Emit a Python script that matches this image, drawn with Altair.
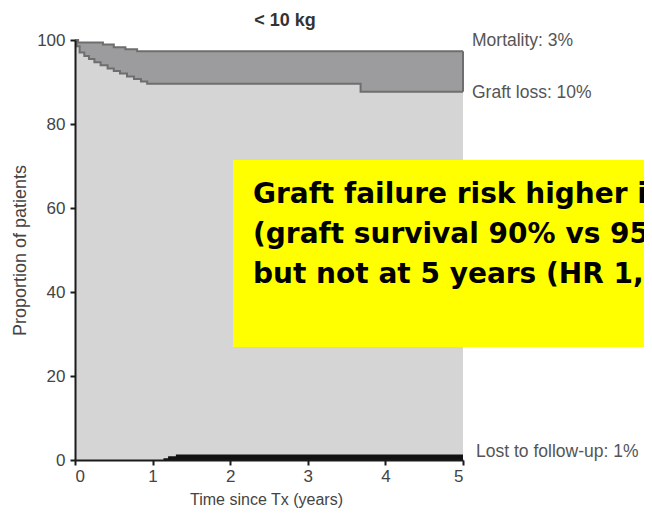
import altair as alt
import pandas as pd

# ---- data (Kaplan-Meier style stacked curves) ----
mort_t = [0, 0.04, 0.36, 0.5, 0.65, 0.8, 5]
mort_v = [100, 99.4, 98.9, 98.3, 97.8, 97.3, 97.3]

graft_t = [0, 0.02, 0.06, 0.12, 0.18, 0.25, 0.33, 0.42, 0.5, 0.58, 0.67, 0.76, 0.85, 0.93, 3.68, 5]
graft_v = [100, 98.5, 97.0, 96.2, 95.5, 94.7, 94.0, 93.2, 92.6, 92.0, 91.3, 90.7, 90.1, 89.6, 87.7, 87.7]

ltfu_t = [0, 1.14, 1.2, 1.3, 5]
ltfu_v = [0, 0.4, 0.9, 1.3, 1.3]

label_texts = ["Mortality: 3%", "Graft loss: 10%", "Lost to follow-up: 1%"]
label_vals = [99.8, 87.4, 1.9]

x_ticks = [0, 1, 2, 3, 4, 5]
y_ticks = [0, 20, 40, 60, 80, 100]

chart_title = "< 10 kg"
box_lines = [
    "Graft failure risk higher i",
    "(graft survival 90% vs 95%",
    "but not at 5 years (HR 1,",
]

FONT = "Liberation Sans"

mort = pd.DataFrame({"t": mort_t, "v": mort_v})
graft = pd.DataFrame({"t": graft_t, "v": graft_v})
ltfu = pd.DataFrame({"t": ltfu_t, "v": ltfu_v})
edge = pd.DataFrame({"t": [mort_t[-1]], "v": [mort_v[-1]], "v2": [graft_v[-1]]})

x_scale = alt.Scale(domain=[0, 5], nice=False, zero=False)
y_scale = alt.Scale(domain=[0, 100], nice=False)

x_axis = alt.Axis(
    values=x_ticks, format="d", title="Time since Tx (years)", grid=False,
    domainColor="#1a1a1a", domainWidth=2, tickColor="#1a1a1a", tickWidth=2, tickSize=5,
    labelFont=FONT, labelFontSize=17, labelColor="#444", labelPadding=3,
    titleFont=FONT, titleFontSize=16, titleFontWeight="normal", titleColor="#444",
    titleX=191, titleY=39, titleAlign="center", titleBaseline="middle", zindex=1,
)
y_axis = alt.Axis(
    values=y_ticks, format="d", title="Proportion of patients", grid=False,
    domainColor="#1a1a1a", domainWidth=2, tickColor="#1a1a1a", tickWidth=2, tickSize=5,
    labelFont=FONT, labelFontSize=17, labelColor="#444", labelPadding=5,
    titleFont=FONT, titleFontSize=18, titleFontWeight="normal", titleColor="#444",
    titleX=-55, titleY=210, titleAngle=270, titleAlign="center", titleBaseline="middle", zindex=1,
)

X = alt.X("t:Q", scale=x_scale, axis=x_axis)
Y = alt.Y("v:Q", scale=y_scale, axis=y_axis)

dark = alt.Chart(mort).mark_area(interpolate="step-after", color="#9c9c9e").encode(x=X, y=Y)
light = alt.Chart(graft).mark_area(interpolate="step-after", color="#d4d5d4").encode(x=X, y=Y)
black = alt.Chart(ltfu).mark_area(interpolate="step-after", color="#111111").encode(x=X, y=Y)
mort_line = alt.Chart(mort).mark_line(interpolate="step-after", color="#6e6e6e", strokeWidth=2).encode(x=X, y=Y)
graft_line = alt.Chart(graft).mark_line(interpolate="step-after", color="#6e6e6e", strokeWidth=2).encode(x=X, y=Y)
edge_rule = alt.Chart(edge).mark_rule(color="#6e6e6e", strokeWidth=2).encode(x=X, y=Y, y2="v2:Q")

label_layers = []
for txt, val, dx in zip(label_texts, label_vals, [9, 9, 13]):
    df = pd.DataFrame({"t": [5], "v": [val], "label": [txt]})
    label_layers.append(
        alt.Chart(df).mark_text(align="left", baseline="middle", dx=dx, font=FONT,
                                fontSize=17.5, color="#555")
        .encode(x=X, y=Y, text="label:N")
    )

anchor = pd.DataFrame({"t": [0]})
title_mark = alt.Chart(anchor).mark_text(
    text=chart_title, font=FONT, fontSize=18, fontWeight="bold", color="#333",
    align="center", baseline="middle",
).encode(x=alt.value(210), y=alt.value(-19))

box = alt.Chart(anchor).mark_rect(color="#ffff00").encode(
    x=alt.value(158), x2=alt.value(620), y=alt.value(120), y2=alt.value(307)
)
box_text = []
for i, line in enumerate(box_lines):
    box_text.append(
        alt.Chart(anchor).mark_text(
            text=line, font="DejaVu Sans", fontSize=28, fontWeight="bold", color="#000",
            align="left", baseline="alphabetic",
        ).encode(x=alt.value(178), y=alt.value(163 + 40 * i))
    )

chart = alt.layer(
    dark, light, black, mort_line, graft_line, edge_rule, *label_layers, title_mark, box, *box_text
).properties(
    width=388, height=420,
    padding={"left": 67, "top": 32, "right": 181, "bottom": 49},
    autosize=alt.AutoSizeParams(type="none"),
).configure_view(stroke=None)

chart.save("out.html", embed_options={"renderer": "svg", "actions": False})
